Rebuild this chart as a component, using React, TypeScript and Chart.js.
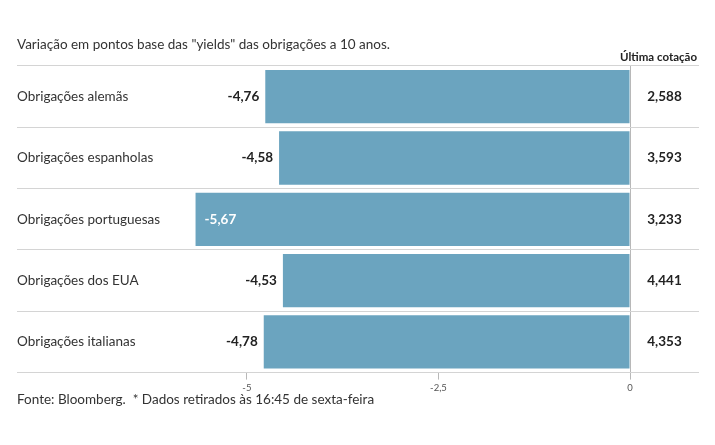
import React, { useEffect, useRef } from "react";
import { Chart, registerables } from "chart.js";

Chart.register(...registerables);

const categories = [
  "Obrigações alemãs",
  "Obrigações espanholas",
  "Obrigações portuguesas",
  "Obrigações dos EUA",
  "Obrigações italianas",
];
const changes = [-4.76, -4.58, -5.67, -4.53, -4.78];
const lastQuotes = [2.588, 3.593, 3.233, 4.441, 4.353];
const xTicks = [-5, -2.5, 0];

const titleText = 'Variação em pontos base das "yields" das obrigações a 10 anos.';
const quoteHeader = "Última cotação";
const footerText = "Fonte: Bloomberg.  * Dados retirados às 16:45 de sexta-feira";

const FONT = "Lato, 'Open Sans', sans-serif";
const BAR_COLOR = "#6ba4bf";

const fmt = (v: number, d?: number) =>
  (d !== undefined ? v.toFixed(d) : String(v)).replace(".", ",");

const labelsPlugin = {
  id: "labelsPlugin",
  afterDatasetsDraw(chart: any) {
    const { ctx, chartArea } = chart;
    const meta = chart.getDatasetMeta(0);
    const xScale = chart.scales.x;
    const zeroX = xScale.getPixelForValue(0);
    ctx.save();
    ctx.textBaseline = "middle";
    meta.data.forEach((bar: any, i: number) => {
      const v = changes[i];
      const txt = fmt(v, 2);
      ctx.font = `bold 13.5px ${FONT}`;
      const w = ctx.measureText(txt).width;
      ctx.font = `13.5px ${FONT}`;
      const catW = ctx.measureText(categories[i]).width;
      const left = Math.min(bar.x, bar.base);
      ctx.font = `bold 13.5px ${FONT}`;
      if (left - 6 - w < chartArea.left + catW + 8) {
        ctx.fillStyle = "#ffffff";
        ctx.textAlign = "left";
        ctx.fillText(txt, left + 9, bar.y);
      } else {
        ctx.fillStyle = "#222222";
        ctx.textAlign = "right";
        ctx.fillText(txt, left - 6, bar.y);
      }
      ctx.fillStyle = "#222222";
      ctx.textAlign = "center";
      ctx.fillText(fmt(lastQuotes[i], 3), (zeroX + chartArea.right) / 2, bar.y);
    });
    // header texts
    ctx.textAlign = "left";
    ctx.fillStyle = "#333333";
    ctx.font = `13.5px ${FONT}`;
    ctx.fillText(titleText, chartArea.left, chartArea.top - 21);
    ctx.textAlign = "right";
    ctx.fillStyle = "#222222";
    ctx.font = `bold 11.5px ${FONT}`;
    ctx.fillText(quoteHeader, chartArea.right - 2, chartArea.top - 9);
    // footer
    ctx.textAlign = "left";
    ctx.fillStyle = "#333333";
    ctx.font = `13.5px ${FONT}`;
    ctx.fillText(footerText, chartArea.left, chartArea.bottom + 27);
    ctx.restore();
  },
};

export default function App() {
  const ref = useRef<HTMLCanvasElement>(null);
  useEffect(() => {
    if (!ref.current) return;
    const chart = new Chart(ref.current, {
      type: "bar",
      data: {
        labels: categories,
        datasets: [
          {
            data: changes,
            backgroundColor: BAR_COLOR,
            borderWidth: 0,
            barPercentage: 0.87,
            categoryPercentage: 1,
          },
        ],
      },
      options: {
        indexAxis: "y",
        responsive: false,
        animation: false,
        layout: { padding: { left: 17, right: 16, top: 66, bottom: 48 } },
        plugins: {
          legend: { display: false },
          tooltip: { enabled: false },
          title: { display: false },
        },
        scales: {
          x: {
            min: -8,
            max: 0.9,
            border: { display: false },
            grid: {
              color: (c: any) => (c.tick && c.tick.value === 0 ? "#b8b8b8" : "transparent"),
              tickColor: "#b8b8b8",
              tickLength: 7,
              drawTicks: true,
            },
            afterBuildTicks: (s: any) => {
              s.ticks = xTicks.map((v) => ({ value: v }));
            },
            ticks: {
              font: { size: 9.5, family: FONT },
              color: "#555555",
              padding: 3,
              callback: (v: any) => fmt(Number(v)),
            },
          },
          y: {
            border: { display: false },
            grid: { color: "#d4d4d4", offset: true, drawTicks: false },
            ticks: {
              mirror: true,
              padding: 0,
              font: { size: 13.5, family: FONT },
              color: "#333333",
            },
          },
        },
      },
      plugins: [labelsPlugin],
    } as any);
    return () => chart.destroy();
  }, []);
  return (
    <div style={{ position: "absolute", left: 0, top: 0, width: 715, height: 445, background: "#fff" }}>
      <canvas ref={ref} width={715} height={445} style={{ display: "block" }} />
    </div>
  );
}
